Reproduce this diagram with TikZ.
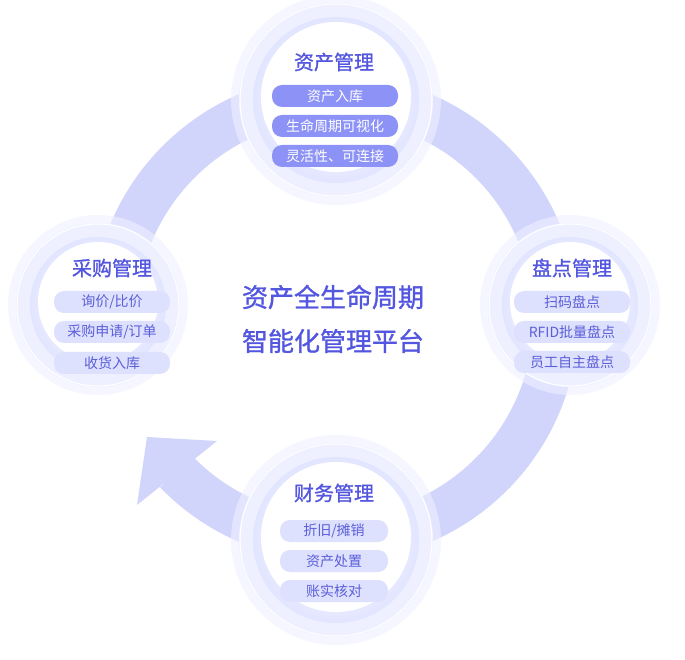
\documentclass[tikz,border=0pt]{standalone}
\usepackage{fontspec}
\newfontfamily\cjk[AutoFakeBold=1.2]{Noto Sans CJK SC}
\definecolor{band}{HTML}{D2D5FB}
\definecolor{halo}{HTML}{EEF0FF}
\definecolor{edge}{HTML}{E2E5FF}
\definecolor{ttl}{HTML}{5356DE}
\definecolor{pillA}{HTML}{8C92F6}
\definecolor{pillB}{HTML}{DEE1FD}
\definecolor{ptxt}{HTML}{5A5ED8}
\tikzset{
 title/.style={text=ttl,font=\cjk\bfseries\fontsize{20}{20}\selectfont},
 pill/.style={rounded corners=10pt,minimum height=22pt,inner sep=0pt,font=\cjk\fontsize{14}{14}\selectfont},
 pillhi/.style={pill,fill=pillA,text=white},
 pilllo/.style={pill,fill=pillB,text=ptxt},
}
\newcommand{\bubble}[3]{%
 \fill[halo,opacity=0.6] (#1,#2) circle ({#3+8});
 \fill[halo] (#1,#2) circle (#3);
 \draw[white,line width=1pt] (#1,#2) circle ({#3-1});
 \shade[inner color=white,outer color=edge] (#1,#2) circle ({#3-14});
 \fill[white] (#1,#2+3) circle ({#3-22});
}
\begin{document}
\begin{tikzpicture}[x=1pt,y=1pt]
\useasboundingbox (0,0) rectangle (685,659);
% band
\draw[band,line width=45pt] (335,341) ++(224:221) arc[start angle=224,end angle=530,radius=221];
\coordinate (tip) at (147,222);
\coordinate (b1) at (217,218);
\coordinate (b2) at (137,154);
\fill[band] (tip) -- (b1) -- (b2) -- cycle;
% bubbles
\bubble{336}{559}{97}
\bubble{98}{354}{82}
\bubble{570}{354}{82}
\bubble{336}{119}{97}
% center
\node[text=ttl,font=\cjk\bfseries\fontsize{26}{26}\selectfont] (c1) at (333,362) {资产全生命周期};
\node[text=ttl,font=\cjk\bfseries\fontsize{26}{26}\selectfont] (c2) at (333,318) {智能化管理平台};
% top
\node[title] (t) at (334,597) {资产管理};
\node[pillhi,minimum width=126pt] (t1) at (335,563) {资产入库};
\node[pillhi,minimum width=126pt] (t2) at (335,533) {生命周期可视化};
\node[pillhi,minimum width=126pt] (t3) at (335,503) {灵活性、可连接};
% left
\node[title] (l) at (112,391) {采购管理};
\node[pilllo,minimum width=116pt] (l1) at (112,357) {询价/比价};
\node[pilllo,minimum width=116pt] (l2) at (112,327) {采购申请/订单};
\node[pilllo,minimum width=116pt] (l3) at (112,296) {收货入库};
% right
\node[title] (r) at (572,391) {盘点管理};
\node[pilllo,minimum width=116pt] (r1) at (572,357) {扫码盘点};
\node[pilllo,minimum width=116pt] (r2) at (572,327) {RFID批量盘点};
\node[pilllo,minimum width=116pt] (r3) at (572,297) {员工自主盘点};
% bottom
\node[title] (b) at (334,166) {财务管理};
\node[pilllo,minimum width=108pt] (b1n) at (334,128) {折旧/摊销};
\node[pilllo,minimum width=108pt] (b2n) at (334,98) {资产处置};
\node[pilllo,minimum width=108pt] (b3n) at (334,68) {账实核对};
\end{tikzpicture}
\end{document}
